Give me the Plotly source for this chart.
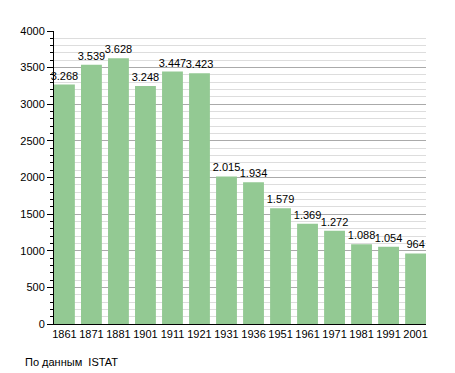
import plotly.graph_objects as go

years = ["1861", "1871", "1881", "1901", "1911", "1921", "1931", "1936",
         "1951", "1961", "1971", "1981", "1991", "2001"]
population = [3268, 3539, 3628, 3248, 3447, 3423, 2015, 1934,
              1579, 1369, 1272, 1088, 1054, 964]
labels = [f"{v:,}".replace(",", ".") for v in population]
y_ticks = [0, 500, 1000, 1500, 2000, 2500, 3000, 3500, 4000]
source_note = "По данным  ISTAT"

# page body has an 8px default margin; size the figure to fit the window
W, H = 447, 365
ml, mr, mt, mb = 43, 29, 23, 49
gap = 0.228
half = (1 - gap) / 2

fig = go.Figure(go.Bar(
    x=years, y=population, text=labels, textposition="outside",
    cliponaxis=False, constraintext="none",
    textfont=dict(size=11, color="#000000", family="Liberation Sans, Arial, sans-serif"),
    marker=dict(color="#93c993", line=dict(width=0)),
))

fig.update_layout(
    width=W, height=H,
    margin=dict(l=ml, r=mr, t=mt, b=mb),
    paper_bgcolor="white", plot_bgcolor="white",
    bargap=gap,
    showlegend=False,
    font=dict(family="Liberation Sans, Arial, sans-serif", size=11, color="#000000"),
    xaxis=dict(
        type="category", range=[-half, len(years) - 1 + half],
        showline=True, linecolor="#000000", linewidth=1,
        ticks="", showgrid=False, tickfont=dict(size=11),
    ),
    yaxis=dict(
        range=[0, 4000], tickvals=y_ticks, showline=True, linecolor="#000000",
        linewidth=1, ticks="outside", ticklen=6, tickcolor="#000000",
        showgrid=True, gridcolor="#aaaaaa", gridwidth=1, zeroline=False,
        tickfont=dict(size=11),
        minor=dict(dtick=100, ticks="outside", ticklen=3, tickcolor="#000000",
                   showgrid=True, gridcolor="#dddddd", gridwidth=1),
    ),
    annotations=[dict(
        text=source_note, xref="paper", yref="paper",
        x=(12 - ml) / (W - ml - mr), y=-(354 - (H - mb)) / (H - mt - mb),
        xanchor="left", yanchor="middle", showarrow=False,
        font=dict(size=11, color="#000000"),
    )],
)

fig.write_html("out.html")
